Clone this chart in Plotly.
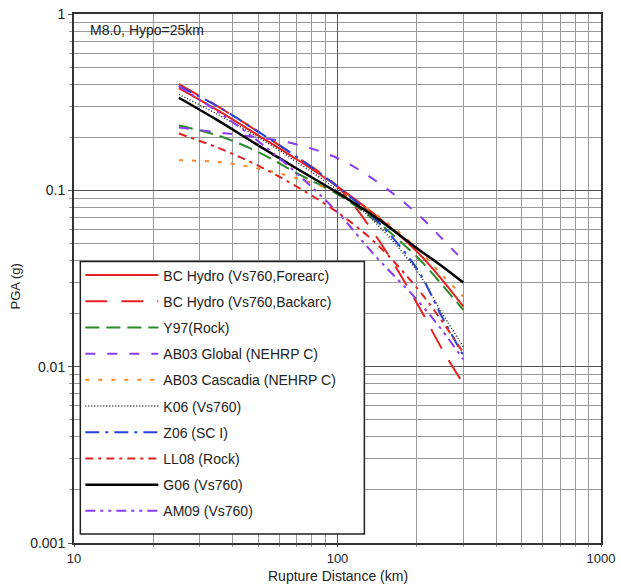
import plotly.graph_objects as go

# Rupture distance (km)
dist = [25, 35, 50, 70, 100, 140, 200, 250, 300]

# PGA (g) per model
bc_forearc = [0.38, 0.285, 0.205, 0.15, 0.105, 0.072, 0.045, 0.031, 0.022]
bc_backarc = [0.40, 0.30, 0.215, 0.155, 0.105, 0.055, 0.023, 0.0125, 0.008]
y97 = [0.233, 0.205, 0.165, 0.125, 0.095, 0.067, 0.042, 0.029, 0.021]
ab03_global = [0.227, 0.213, 0.20, 0.182, 0.152, 0.113, 0.074, 0.053, 0.040]
ab03_cascadia = [0.148, 0.145, 0.133, 0.117, 0.097, 0.073, 0.047, 0.033, 0.025]
k06 = [0.35, 0.27, 0.20, 0.145, 0.10, 0.065, 0.035, 0.02, 0.013]
z06 = [0.39, 0.30, 0.215, 0.155, 0.105, 0.068, 0.036, 0.019, 0.0116]
ll08 = [0.21, 0.175, 0.138, 0.105, 0.075, 0.05, 0.028, 0.018, 0.012]
g06 = [0.335, 0.25, 0.18, 0.133, 0.097, 0.07, 0.047, 0.037, 0.030]
am09 = [0.39, 0.28, 0.19, 0.125, 0.075, 0.042, 0.024, 0.016, 0.011]

names = ["BC Hydro (Vs760,Forearc)", "BC Hydro (Vs760,Backarc)", "Y97(Rock)",
         "AB03 Global (NEHRP C)", "AB03 Cascadia (NEHRP C)", "K06 (Vs760)",
         "Z06 (SC I)", "LL08 (Rock)", "G06 (Vs760)", "AM09 (Vs760)"]
series = [bc_forearc, bc_backarc, y97, ab03_global, ab03_cascadia, k06, z06, ll08, g06, am09]

RED = "#e3211f"
GREEN = "#2a8a2a"
PURPLE = "#8a3cf2"
ORANGE = "#f5862a"
BLUE = "#2642d8"
styles = [
    dict(color=RED, dash="solid", width=2),
    dict(color=RED, dash="22px,14px", width=2),
    dict(color=GREEN, dash="14px,7px", width=2),
    dict(color=PURPLE, dash="10px,12px", width=2),
    dict(color=ORANGE, dash="4px,9px", width=2),
    dict(color="#222222", dash="1px,2px", width=1.5),
    dict(color=BLUE, dash="14px,6px,3px,6px", width=2),
    dict(color=RED, dash="8px,5px,3px,5px", width=2),
    dict(color="black", dash="solid", width=2.5),
    dict(color=PURPLE, dash="10px,5px,3px,5px,3px,5px", width=2),
]

fig = go.Figure()
for i, (nm, ys, st) in enumerate(zip(names, series, styles)):
    fig.add_trace(go.Scatter(x=dist, y=ys, mode="lines", name=nm,
                             line=dict(shape="spline", **st), legendgroup=f"g{i}"))

minor_x = [v * m for v in (10, 100) for m in range(2, 10)]
minor_y = [v * m for v in (0.001, 0.01, 0.1) for m in range(2, 10)]

font = dict(family="Liberation Sans, Arial, sans-serif", size=13, color="#222")
fig.update_layout(
    width=621, height=585,
    margin=dict(l=74, r=20, t=14, b=42, autoexpand=False),
    paper_bgcolor="white", plot_bgcolor="white",
    font=font,
    showlegend=True,
    legend=dict(x=0.012, y=0.536, xanchor="left", yanchor="top",
                bgcolor="rgba(0,0,0,0)", borderwidth=0,
                font=dict(size=14, color="#222"), tracegroupgap=5,
                itemwidth=73),
    shapes=[dict(type="rect", xref="paper", yref="paper", x0=0.012, x1=0.551,
                 y0=0.017, y1=0.532, layer="above",
                 line=dict(color="#222", width=1.5), fillcolor="white")],
    annotations=[
        dict(text="M8.0, Hypo=25km", x=0.027, y=0.97, xref="paper", yref="paper",
             xanchor="left", yanchor="middle", showarrow=False,
             font=dict(size=14, color="#222")),
        dict(text="Rupture Distance (km)", x=0.5, y=-0.0624, xref="paper", yref="paper",
             xanchor="center", yanchor="middle", showarrow=False,
             font=dict(size=14, color="#222")),
        dict(text="PGA (g)", x=-0.112, y=0.485, xref="paper", yref="paper", textangle=-90,
             xanchor="center", yanchor="middle", showarrow=False,
             font=dict(size=13, color="#222")),
    ],
)
fig.update_xaxes(type="log", range=[1, 3], tickvals=[10, 100, 1000], ticktext=["10", "100", "1000"],
                 automargin=False,
                 showgrid=True, gridcolor="#555", gridwidth=1,
                 showline=True, linecolor="#333", linewidth=2, mirror=True,
                 ticks="outside", ticklen=2, tickcolor="#555",
                 minor=dict(tickvals=minor_x, showgrid=True, gridcolor="#999", gridwidth=1,
                            ticks="outside", ticklen=2, tickcolor="#999"),
                 tickfont=dict(size=13),
                 zeroline=False)
fig.update_yaxes(type="log", range=[-3, 0], tickvals=[0.001, 0.01, 0.1, 1],
                 ticktext=["0.001", "0.01", "0.1", "1"],
                 automargin=False,
                 showgrid=True, gridcolor="#555", gridwidth=1,
                 showline=True, linecolor="#333", linewidth=2, mirror=True,
                 ticks="outside", ticklen=4, tickcolor="#555",
                 minor=dict(tickvals=minor_y, showgrid=True, gridcolor="#999", gridwidth=1,
                            ticks="outside", ticklen=3, tickcolor="#999"),
                 tickfont=dict(size=14),
                 zeroline=False)

fig.write_html("out.html")
